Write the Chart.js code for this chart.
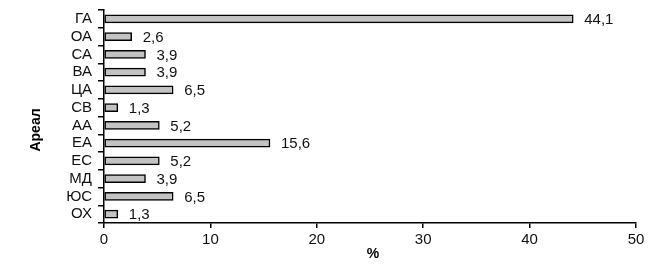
<!DOCTYPE html>
<html>
<head>
<meta charset="utf-8">
<script src="https://cdn.jsdelivr.net/npm/chart.js@4.4.1/dist/chart.umd.min.js"></script>
<style>
  html, body { margin: 0; padding: 0; background: #fff; }
  #wrap { width: 670px; height: 269px; position: relative; }
</style>
</head>
<body>
<div id="wrap"><canvas id="grafica"></canvas></div>
<script>
// --- DATOS ---
const categorias = ['ГА', 'ОА', 'СА', 'ВА', 'ЦА', 'СВ', 'АА', 'ЕА', 'ЕС', 'МД', 'ЮС', 'ОХ'];
const valores = [44.1, 2.6, 3.9, 3.9, 6.5, 1.3, 5.2, 15.6, 5.2, 3.9, 6.5, 1.3];
const ticksX = [0, 10, 20, 30, 40, 50];
const tituloY = 'Ареал';
const tituloX = '%';

const FUENTE = '"Liberation Sans", Arial, sans-serif';

// etiquetas de valor a la derecha de cada barra (coma decimal)
const etiquetasPlugin = {
    id: 'etiquetas',
    afterDatasetsDraw(chart) {
        const ctx = chart.ctx;
        const meta = chart.getDatasetMeta(0);
        ctx.save();
        ctx.font = '15px ' + FUENTE;
        ctx.fillStyle = '#111';
        ctx.textBaseline = 'middle';
        ctx.textAlign = 'left';
        meta.data.forEach((bar, i) => {
            const txt = valores[i].toFixed(1).replace('.', ',');
            ctx.fillText(txt, bar.x + 11, bar.y + 1);
        });
        ctx.restore();
    }
};

// titulos de los ejes
const titulosPlugin = {
    id: 'titulos',
    afterDraw(chart) {
        const ctx = chart.ctx;
        const area = chart.chartArea;
        ctx.save();
        ctx.font = 'bold 14px ' + FUENTE;
        ctx.fillStyle = '#000';
        ctx.textAlign = 'center';
        ctx.textBaseline = 'middle';
        ctx.fillText(tituloX, (area.left + area.right) / 2 + 3, 254);
        ctx.translate(36, 130);
        ctx.rotate(-Math.PI / 2);
        ctx.fillText(tituloY, 0, 0);
        ctx.restore();
    }
};

function inicializarGrafica() {
    const ctx = document.getElementById('grafica').getContext('2d');
    new Chart(ctx, {
        type: 'bar',
        data: {
            labels: categorias,
            datasets: [{
                data: valores,
                backgroundColor: '#c3c3c3',
                borderColor: '#000',
                borderWidth: 1.5,
                borderSkipped: false,
                barThickness: 8
            }]
        },
        options: {
            indexAxis: 'y',
            responsive: true,
            maintainAspectRatio: false,
            animation: false,
            devicePixelRatio: 1,
            layout: { padding: { top: 10, right: 34, left: 0, bottom: 0 } },
            plugins: { legend: { display: false }, tooltip: { enabled: false } },
            scales: {
                x: {
                    min: 0, max: 50,
                    afterBuildTicks: s => { s.ticks = ticksX.map(v => ({ value: v })); },
                    afterFit: s => { s.height = 269 - 223; },
                    grid: { drawOnChartArea: false, tickLength: 5, color: '#000', lineWidth: 1.5 },
                    border: { color: '#000', width: 1.5 },
                    ticks: { color: '#111', font: { size: 15, family: FUENTE }, padding: 3 }
                },
                y: {
                    afterFit: s => { s.width = 104; s.paddingTop = 0; s.paddingBottom = 0; },
                    grid: { drawOnChartArea: false, offset: true, tickLength: 6, color: '#000', lineWidth: 1.5 },
                    border: { color: '#000', width: 1.5 },
                    ticks: { color: '#111', font: { size: 15, family: FUENTE }, padding: 6, autoSkip: false }
                }
            }
        },
        plugins: [etiquetasPlugin, titulosPlugin]
    });
}

document.addEventListener('DOMContentLoaded', inicializarGrafica);
</script>
</body>
</html>
